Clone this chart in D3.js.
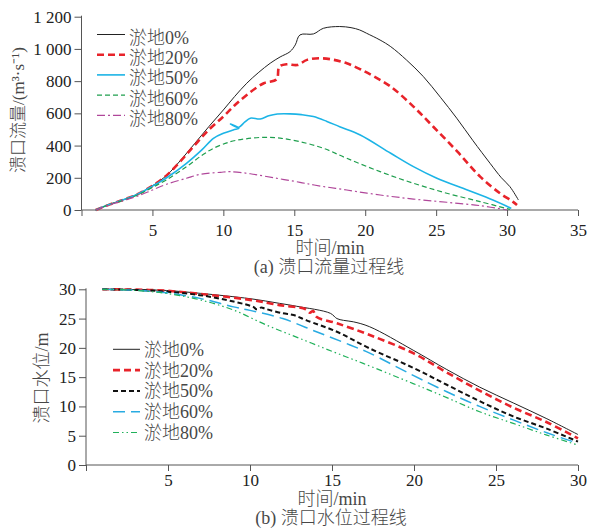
<!DOCTYPE html>
<html>
<head>
<meta charset="utf-8">
<script src="https://cdn.jsdelivr.net/npm/d3@7"></script>
<style>
  body { margin: 0; background: #fff; }
  svg { display: block; }
  .tick text { font-family: "Liberation Serif", "Times New Roman", serif; font-size: 17px; fill: #222; }
  .domain, .tick line { stroke: #555; stroke-width: 1; }
  .mix { font-family: "Liberation Serif", "Noto Sans CJK SC", serif; font-weight: 300; fill: #474747; }
</style>
</head>
<body>
<svg id="chart" width="589" height="528"></svg>
<script>
const seriesFlow = ['淤地0%', '淤地20%', '淤地50%', '淤地60%', '淤地80%'];
const seriesLevel = ['淤地0%', '淤地20%', '淤地50%', '淤地60%', '淤地80%'];

const flowTicksX = [0, 5, 10, 15, 20, 25, 30, 35];
const flowTicksY = [0, 200, 400, 600, 800, 1000, 1200];
const levelTicksX = [0, 5, 10, 15, 20, 25, 30];
const levelTicksY = [0, 5, 10, 15, 20, 25, 30];

// (a) breach flow, [time min, Q m3/s]
const flow0 = [[1,0],[2,35],[3,65],[4,100],[5,150],[6,215],[7,310],[8,415],[9,520],[10,621],[10.8,705],
  [11.65,787],[12.5,855],[13.3,911],[14.0,950],[14.7,983],[15.07,1025],[15.4,1087],[16.35,1093],[17.05,1128],
  [18.2,1139],[19.0,1132],[19.6,1118],[20.1,1097],[21.05,1055],[21.8,1014],[22.9,932],[24.1,828],[25.3,700],
  [26.45,570],[27.6,430],[28.8,290],[29.6,200],[30.2,145],[30.8,62]];
const flow20 = [[1,0],[2,35],[3,65],[4,100],[5,150],[6,215],[7,305],[8,405],[9,500],[10,580],[10.8,650],
  [11.65,714],[12.85,787],[13.75,811],[13.95,890],[14.5,905],[15.2,900],[15.9,932],[16.85,942],[17.8,932],
  [18.7,911],[19.65,874],[20.6,830],[21.8,766],[23.4,642],[24.8,517],[26.5,362],[28.1,207],
  [29.5,104],[30.4,52],[30.7,31]];
const flow50 = [[1,0],[2,35],[3,65],[4,100],[5,148],[6,200],[7.4,290],[8.5,375],[9.3,445],[10.0,476],
  [10.7,497],[11.1,508],[10.5,534],[11.05,512],[11.5,545],[11.9,570],[12.6,565],[13.2,585],[13.8,596],
  [14.7,597],[15.5,592],[16.35,580],[17.3,550],[18.2,517],[19.65,466],[21.8,352],[23.4,269],[25.05,197],
  [27.2,124],[29.0,62],[30.3,10]];
const flow60 = [[1,0],[2,35],[3,62],[4,95],[5,140],[6,188],[7.4,269],[8.5,340],[9.3,383],[10.5,424],
  [11.6,442],[12.85,451],[14.0,446],[15.4,424],[17.05,383],[18.7,321],[21.05,238],[23.4,166],
  [25.75,104],[28.1,52],[30.2,4]];
const flow80 = [[1,0],[2,33],[3,60],[4,88],[5,124],[6,160],[7.4,197],[8.4,222],[9.8,234],[10.5,238],
  [11.9,225],[13.55,200],[15.4,172],[16.4,155],[18.7,124],[21.05,93],[23.4,68],[25.75,48],[28.1,27],[30.0,0]];

// (b) breach water level, [time min, H m]
const level0 = [[1,30],[3,29.95],[4.9,29.8],[7,29.3],[10,28.4],[11.8,27.6],[12.85,27.1],[14.9,25.9],
  [15.3,25.0],[15.7,24.7],[16.3,24.45],[17.3,23.6],[19.95,19.6],[22,16.3],[24,13.3],[26.05,10.6],[28.1,7.9],[30,5.2]];
const level20 = [[1,30],[3,29.95],[4.9,29.75],[7,29.2],[10,28.2],[11.8,27.3],[13.4,26.6],[13.65,26.0],
  [13.85,26.3],[14.05,25.3],[15.3,24.2],[17.3,22.2],[19.95,19.1],[22,15.8],[24,12.7],
  [26.05,9.8],[28.1,7.3],[30,4.55]];
const level50 = [[1,30],[3,29.9],[4.9,29.6],[6.95,29.0],[9,27.9],[10.2,27.0],[10.4,26.6],[10.7,26.9],
  [10.9,26.7],[12.0,25.9],[12.65,25.6],[13.45,24.7],[15.3,22.75],[17.3,19.9],[19.95,16.6],[22,13.7],
  [24,10.9],[26.05,8.3],[28.1,6.2],[30,4.0]];
const level60 = [[1,30],[3,29.85],[4.9,29.4],[6.95,28.45],[9,27.0],[10,26.4],[12,25.0],[14.05,22.75],
  [16.1,20.5],[17.3,19.1],[19.95,15.3],[22,12.5],[24,10.0],[26.05,7.7],[28.1,5.5],[30,3.7]];
const level80 = [[1,30],[2.8,29.85],[4.9,29.3],[6.95,28.2],[9,26.45],[11,23.9],[13.05,21.6],[15.1,19.3],
  [16.9,17.35],[19.95,13.9],[22,11.5],[24,9.1],[26.05,7.1],[28.1,5.1],[30,3.4]];

const svg = d3.select('#chart');
svg.append('rect').attr('width', 589).attr('height', 528).attr('fill', '#fff');

// line styles for each panel
const flowStyle = [
  { color: '#222', width: 1, dash: null },
  { color: '#e8232a', width: 2.6, dash: '7,4' },
  { color: '#1cb4e6', width: 1.6, dash: null },
  { color: '#1f9f4e', width: 1.2, dash: '5,3' },
  { color: '#b0479a', width: 1.2, dash: '8,3,2,3' }
];
const levelStyle = [
  { color: '#222', width: 1, dash: null },
  { color: '#e8232a', width: 2.6, dash: '7,4' },
  { color: '#111', width: 2, dash: '5,3' },
  { color: '#29abe2', width: 1.5, dash: '12,6' },
  { color: '#20b15a', width: 1.2, dash: '6,3,1.5,3,1.5,3' }
];

// serif for latin, CJK falls back to Noto Sans CJK
function mixText(parent, s, size) {
  return parent.append('text').attr('class', 'mix').attr('font-size', size).text(s);
}

function panel(opt) {
  const x = d3.scaleLinear().domain(opt.xDomain).range([opt.left, opt.right]);
  const y = d3.scaleLinear().domain(opt.yDomain).range([opt.bottom, opt.top]);
  const g = svg.append('g');

  g.append('g')
    .attr('transform', `translate(0,${opt.bottom})`)
    .call(d3.axisBottom(x).tickValues(opt.xTicks).tickSize(6).tickPadding(opt.xPad)
      .tickFormat(d => d === 0 ? '' : d))
    .call(a => a.select('.domain').attr('d', `M${opt.left},0H${opt.right}`));

  g.append('g')
    .attr('transform', `translate(${opt.left},0)`)
    .call(d3.axisLeft(y).tickValues(opt.yTicks).tickSize(7).tickPadding(3)
      .tickFormat(d => d >= 1000 ? d3.format(',')(d).replace(',', ' ') : d))
    .call(a => a.select('.domain').attr('d', `M0,${opt.bottom}V${opt.top - 1}`));
  g.selectAll('.domain').attr('fill', 'none');

  const line = d3.line()
    .x(d => x(d[0]))
    .y(d => y(d[1]))
    .curve(d3.curveCatmullRom.alpha(0.5));

  opt.data.forEach((d, i) => {
    const st = opt.style[i];
    g.append('path')
      .attr('d', line(d))
      .attr('fill', 'none')
      .attr('stroke', st.color)
      .attr('stroke-width', st.width)
      .attr('stroke-dasharray', st.dash);
  });

  // legend
  opt.names.forEach((n, i) => {
    const st = opt.style[i];
    const cy = opt.legY + i * opt.legStep;
    g.append('line')
      .attr('x1', opt.legX).attr('x2', opt.legX + opt.legLen)
      .attr('y1', cy + opt.legLineOff).attr('y2', cy + opt.legLineOff)
      .attr('stroke', st.color).attr('stroke-width', st.width)
      .attr('stroke-dasharray', st.dash);
    mixText(g, n, 18)
      .attr('x', opt.legX + opt.legLen + 4)
      .attr('y', cy + 6.5);
  });

  return { x, y, g };
}

panel({
  xDomain: [0, 35], yDomain: [0, 1200],
  left: 81.5, right: 578, top: 16.7, bottom: 210,
  xTicks: flowTicksX, yTicks: flowTicksY, xPad: 8,
  data: [flow0, flow20, flow50, flow60, flow80],
  style: flowStyle, names: seriesFlow,
  legX: 97, legLen: 28, legY: 37.5, legStep: 20.2, legLineOff: -3
});

panel({
  xDomain: [0, 30], yDomain: [0, 30],
  left: 86, right: 578, top: 289.3, bottom: 465,
  xTicks: levelTicksX, yTicks: levelTicksY, xPad: 3,
  data: [level0, level20, level50, level60, level80],
  style: levelStyle, names: seriesLevel,
  legX: 113, legLen: 27, legY: 349.3, legStep: 20.8, legLineOff: 0
});

// axis titles
mixText(svg, '溃口流量/(m³·s⁻¹)', 17)
  .attr('text-anchor', 'middle')
  .attr('transform', 'translate(24,110) rotate(-90)');

mixText(svg, '溃口水位/m', 18)
  .attr('text-anchor', 'middle')
  .attr('transform', 'translate(48,378) rotate(-90)');

mixText(svg, '时间/min', 18)
  .attr('text-anchor', 'middle').attr('x', 330).attr('y', 254);
mixText(svg, '时间/min', 18)
  .attr('text-anchor', 'middle').attr('x', 332).attr('y', 505);

// captions
mixText(svg, '(a) 溃口流量过程线', 18)
  .attr('text-anchor', 'middle').attr('x', 329).attr('y', 273);
mixText(svg, '(b) 溃口水位过程线', 18)
  .attr('text-anchor', 'middle').attr('x', 331).attr('y', 524);
</script>
</body>
</html>
